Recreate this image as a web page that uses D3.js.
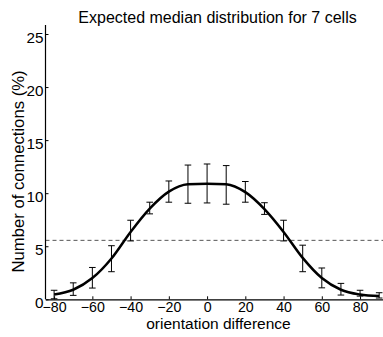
<!DOCTYPE html>
<html><head><meta charset="utf-8">
<script src="https://cdn.jsdelivr.net/npm/d3@7"></script>
<style>body{margin:0;background:#fff}svg{display:block}text{font-family:"Liberation Sans",Arial,sans-serif}</style>
</head><body>
<svg id="c" width="383" height="337"></svg>
<script>
const xs = [-80,-70,-60,-50,-40,-30,-20,-10,0,10,20,30,40,50,60,70,80,90];
const means = [0.45,0.9,2.0,3.85,6.35,8.55,10.15,10.85,10.9,10.85,10.1,8.5,6.35,3.9,2.0,0.9,0.45,0.3];
const uppers = [0.85,1.55,3.0,5.05,7.45,9.15,11.15,12.65,12.75,12.6,11.1,9.1,7.45,5.1,2.95,1.5,0.85,0.62];
const lowers = [0.05,0.37,1.06,2.6,5.5,8.05,9.15,9.05,9.08,8.96,9.15,8.0,5.5,2.6,1.08,0.4,0.3,0.12];
const xTicks = [-80,-60,-40,-20,0,20,40,60,80];
const yTicks = [0,5,10,15,20,25];
const chance = 100/18;
const title = "Expected median distribution for 7 cells";
const xLabel = "orientation difference";
const yLabel = "Number of connections (%)";

const svg = d3.select("#c");
const L = 45.5, R = 383, T = 25, B = 299.3;
const x = d3.scaleLinear().domain([-84.5, 92]).range([L, R]);
const y = d3.scaleLinear().domain([0, 25]).range([B, 34]);

// dashed reference line
svg.append("line").attr("x1", L).attr("x2", R).attr("y1", y(chance)).attr("y2", y(chance))
  .attr("stroke", "#555").attr("stroke-width", 1).attr("stroke-dasharray", "4,3");

// axes
const xa = svg.append("g").attr("transform", `translate(0,${B})`)
  .call(d3.axisBottom(x).tickValues(xTicks).tickSizeInner(-3).tickSizeOuter(0).tickPadding(2.7).tickFormat(d => d < 0 ? "\u2212" + Math.abs(d) : d));
const ya = svg.append("g").attr("transform", `translate(${L},0)`)
  .call(d3.axisLeft(y).tickValues(yTicks).tickSizeInner(-3).tickSizeOuter(0).tickPadding(2));
ya.select(".domain").attr("d", `M0,${T}V${B}`);
[xa, ya].forEach(g => {
  g.select(".domain").attr("stroke", "#000").attr("stroke-width", 1.2);
  g.selectAll(".tick line").attr("stroke", "#000");
  g.selectAll("text").attr("fill", "#000").attr("font-family", "Liberation Sans, Arial, sans-serif");
});
xa.selectAll("text").attr("font-size", 14.2).attr("dy", "0.71em");
ya.selectAll("text").attr("font-size", 15.3).attr("dy", "0.54em");

// error bars
const cap = 3.3;
const eb = svg.append("g").attr("stroke", "#000").attr("stroke-width", 1);
xs.forEach((v, i) => {
  const cx = x(v);
  eb.append("line").attr("x1", cx).attr("x2", cx).attr("y1", y(lowers[i])).attr("y2", y(uppers[i]));
  eb.append("line").attr("x1", cx - cap).attr("x2", cx + cap).attr("y1", y(lowers[i])).attr("y2", y(lowers[i]));
  eb.append("line").attr("x1", cx - cap).attr("x2", cx + cap).attr("y1", y(uppers[i])).attr("y2", y(uppers[i]));
});

// mean line
const line = d3.line().x((d, i) => x(xs[i])).y(d => y(d)).curve(d3.curveMonotoneX);
svg.append("path").datum(means).attr("d", line).attr("fill", "none").attr("stroke", "#000").attr("stroke-width", 2.5);

// labels
svg.append("text").attr("x", 217.5).attr("y", 23).attr("text-anchor", "middle").attr("font-size", 16).text(title);
svg.append("text").attr("x", 218.5).attr("y", 328.5).attr("text-anchor", "middle").attr("font-size", 15.5).text(xLabel);
svg.append("text").attr("transform", `translate(24,171.5) rotate(-90)`).attr("text-anchor", "middle").attr("font-size", 16.7).text(yLabel);
</script>
</body></html>
